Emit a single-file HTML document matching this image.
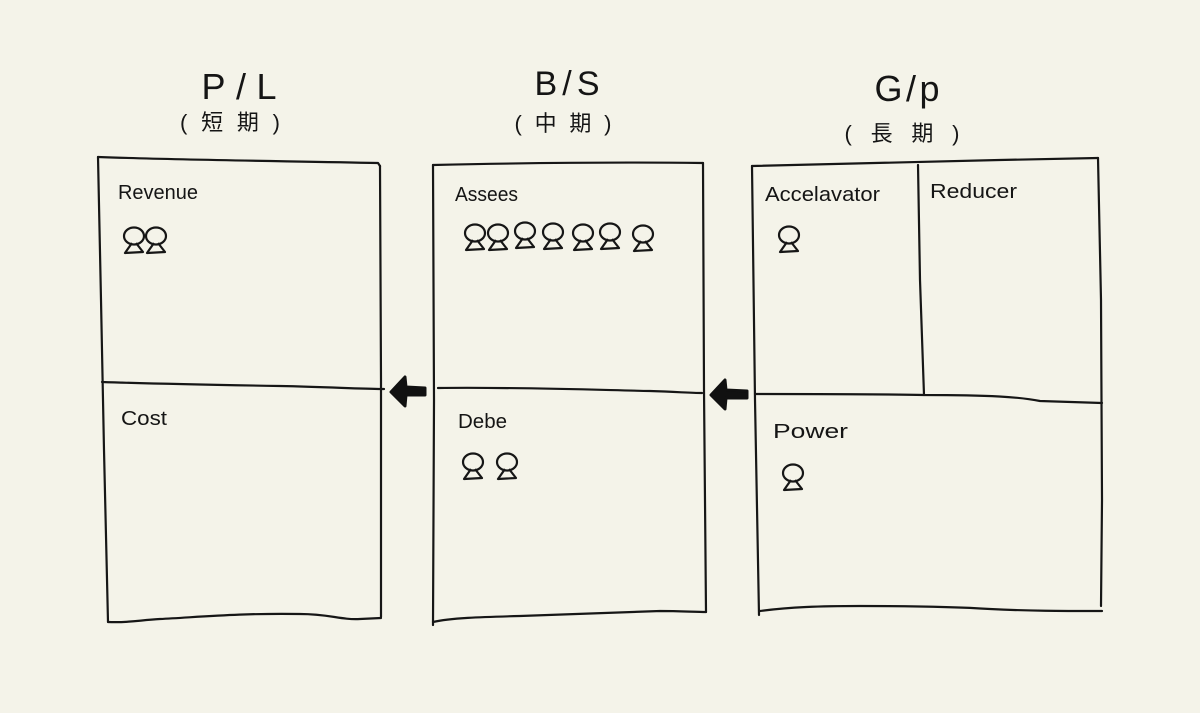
<!DOCTYPE html>
<html><head><meta charset="utf-8"><style>
html,body{margin:0;padding:0;background:#f4f3e9;}
svg{display:block;}
text{font-family:"Liberation Sans","Noto Sans CJK JP",sans-serif;fill:#151515;}
</style></head><body>
<svg width="1200" height="713" viewBox="0 0 1200 713" xmlns="http://www.w3.org/2000/svg">
<rect width="1200" height="713" fill="#f4f3e9"/>
<g fill="none" stroke="#161616" stroke-width="2.2" stroke-linecap="round" stroke-linejoin="round">
<!-- Box 1 -->
<path d="M98,157 C180,160 280,161 378,163 L380,166"/>
<path d="M98,157 L101,300 L104,450 L108,622"/>
<path d="M380,166 L381,380 L381,617"/>
<path d="M108,622 C130,623 140,620 160,619 C200,617 240,613 300,614 C330,614 340,620 360,619 L381,618"/>
<path d="M102,382 C160,384 220,385 280,386 C330,387 360,389 384,389"/>
<!-- Box 2 -->
<path d="M433,165 C520,163 620,162 703,163"/>
<path d="M433,165 L434,400 L433,625"/>
<path d="M703,163 L704,390 L706,612"/>
<path d="M433,622 C450,618 480,617 520,616 C580,614 620,612 660,611 C680,611 695,612 706,612"/>
<path d="M438,388 C520,387 600,390 650,391 C680,392 690,393 702,393"/>
<!-- Box 3 -->
<path d="M752,166 C850,164 980,160 1098,158"/>
<path d="M752,166 L755,400 L759,615"/>
<path d="M1098,158 L1101,300 L1102,500 L1101,606"/>
<path d="M760,611 C790,607 820,606 860,606 C920,606 960,607 990,609 C1030,611 1060,611 1102,611"/>
<path d="M918,165 L920,280 L924,395"/>
<path d="M755,394 C820,394 880,394 924,395 C990,395 1020,397 1040,401 L1102,403"/>
</g>
<!-- Arrows -->
<g fill="#111" stroke="#111" stroke-linejoin="round" stroke-linecap="round">
<path d="M391,392 L405,377 L406,387 L425,388 L425,395 L406,395 L405,406 Z" stroke-width="3"/>
<path d="M711,395 L725,380 L726,390 L747,391 L747,398 L726,398 L725,409 Z" stroke-width="3"/>
</g>
<!-- Titles -->
<text x="239" y="99" font-size="36" text-anchor="middle" textLength="75" lengthAdjust="spacing">P/L</text>
<text x="230" y="130" font-size="22" text-anchor="middle" textLength="100" lengthAdjust="spacing">(短期)</text>
<text x="567" y="95" font-size="34" text-anchor="middle" textLength="65" lengthAdjust="spacing">B/S</text>
<text x="563" y="131" font-size="22" text-anchor="middle" textLength="97" lengthAdjust="spacing">(中期)</text>
<text x="907" y="101" font-size="36" text-anchor="middle" textLength="65" lengthAdjust="spacing">G/p</text>
<text x="902" y="141" font-size="22" text-anchor="middle" textLength="115" lengthAdjust="spacing">(長期)</text>
<!-- Labels -->
<g font-size="20">
<text x="118" y="199" textLength="80" lengthAdjust="spacingAndGlyphs">Revenue</text>
<text x="455" y="201" textLength="63" lengthAdjust="spacingAndGlyphs">Assees</text>
<text x="765" y="201" textLength="115" lengthAdjust="spacingAndGlyphs">Accelavator</text>
<text x="930" y="198" textLength="87" lengthAdjust="spacingAndGlyphs">Reducer</text>
<text x="121" y="425" textLength="46" lengthAdjust="spacingAndGlyphs">Cost</text>
<text x="458" y="428" textLength="49" lengthAdjust="spacingAndGlyphs">Debe</text>
<text x="773" y="438" textLength="75" lengthAdjust="spacingAndGlyphs">Power</text>
</g>
<!-- Person icons -->
<defs>
<g id="p" fill="none" stroke="#161616" stroke-width="2.2" stroke-linejoin="round">
<ellipse cx="0" cy="0" rx="10" ry="8.5"/>
<path d="M-2,7 L-9,17 L9,16 L2,7"/>
</g>
</defs>
<use href="#p" x="134" y="236"/>
<use href="#p" x="156" y="236"/>
<use href="#p" x="475" y="233"/>
<use href="#p" x="498" y="233"/>
<use href="#p" x="525" y="231"/>
<use href="#p" x="553" y="232"/>
<use href="#p" x="583" y="233"/>
<use href="#p" x="610" y="232"/>
<use href="#p" x="643" y="234"/>
<use href="#p" x="789" y="235"/>
<use href="#p" x="473" y="462"/>
<use href="#p" x="507" y="462"/>
<use href="#p" x="793" y="473"/>
</svg>
</body></html>
